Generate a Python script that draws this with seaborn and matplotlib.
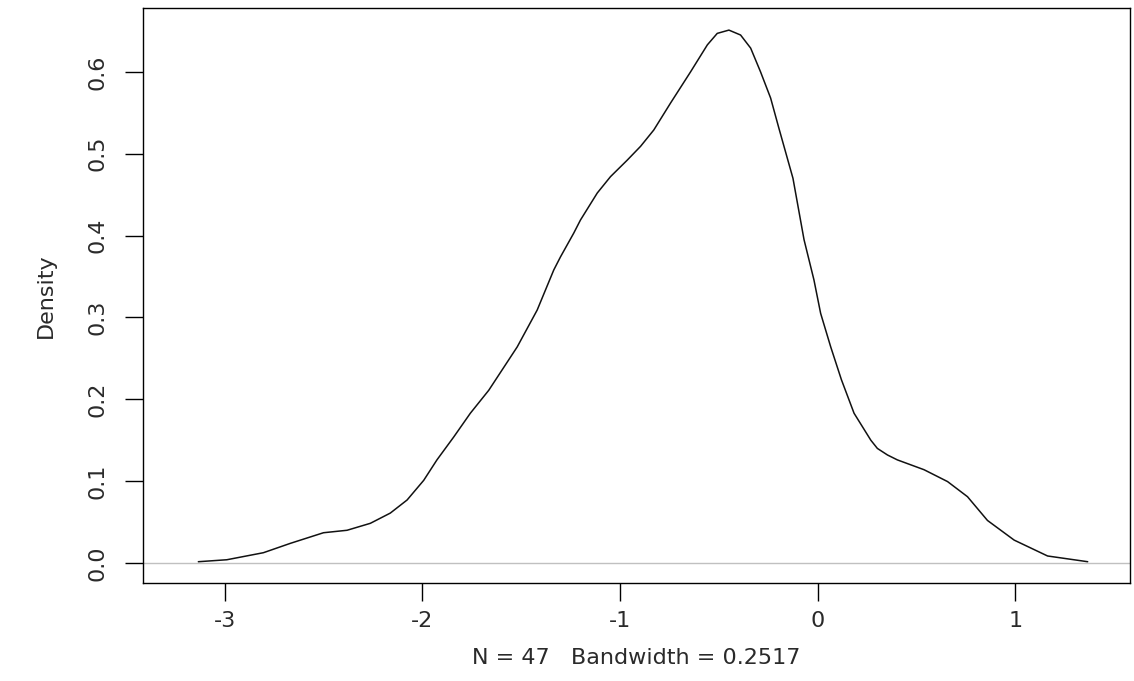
import matplotlib
matplotlib.use("Agg")
import matplotlib.pyplot as plt
import seaborn as sns
import pandas as pd

# Density curve (x value, density)
x_vals = [-3.133, -2.989, -2.804, -2.668, -2.50, -2.381, -2.263, -2.162, -2.077,
          -1.993, -1.926, -1.841, -1.757, -1.664, -1.52, -1.419, -1.335, -1.301,
          -1.234, -1.200, -1.115, -1.048, -0.964, -0.896, -0.829, -0.744, -0.643,
          -0.558, -0.508, -0.449, -0.390, -0.339, -0.289, -0.238, -0.196, -0.125,
          -0.069, -0.019, 0.015, 0.066, 0.12, 0.184, 0.269, 0.302, 0.353, 0.403,
          0.538, 0.657, 0.758, 0.859, 0.994, 1.163, 1.366]
density = [0.0016, 0.004, 0.0126, 0.024, 0.037, 0.040, 0.0485, 0.061, 0.077,
           0.101, 0.126, 0.154, 0.183, 0.211, 0.264, 0.309, 0.358, 0.374,
           0.403, 0.419, 0.452, 0.472, 0.492, 0.509, 0.529, 0.562, 0.600,
           0.633, 0.647, 0.651, 0.645, 0.629, 0.600, 0.568, 0.531, 0.470,
           0.395, 0.346, 0.305, 0.264, 0.224, 0.183, 0.150, 0.140, 0.132, 0.126,
           0.114, 0.0995, 0.081, 0.052, 0.028, 0.0086, 0.0016]
x_ticks = [-3, -2, -1, 0, 1]
y_ticks = [0.0, 0.1, 0.2, 0.3, 0.4, 0.5, 0.6]
x_label = "N = 47   Bandwidth = 0.2517"
y_label = "Density"

sns.set_theme(style="ticks")
plt.rcParams['font.family'] = ['DejaVu Sans']

fig = plt.figure(figsize=(11.34, 6.81), dpi=100)
ax = fig.add_axes([143/1134, (681-583)/681, (1130-143)/1134, (583-8)/681])

df = pd.DataFrame({"x": x_vals, "y": density})
ax.axhline(0, color="#c0c0c0", linewidth=1.0, zorder=1)
sns.lineplot(data=df, x="x", y="y", sort=False, color="#111111", linewidth=1.1,
             estimator=None, ax=ax, zorder=2)
ax.lines[-1].set_solid_joinstyle("round")

ax.set_xlim(-3.413, 1.58)
ax.set_ylim(-0.0244, 0.678)
ax.set_xticks(x_ticks)
ax.set_xticklabels([str(t) for t in x_ticks])
ax.set_yticks(y_ticks)
ax.set_yticklabels([f"{t:.1f}" for t in y_ticks], rotation=90, va="center")

for s in ax.spines.values():
    s.set_visible(True)
    s.set_color("black")
    s.set_linewidth(1.0)

ax.tick_params(axis="both", direction="out", length=13, width=1.0,
               colors="black", labelsize=16, labelcolor="#2a2a2a")
ax.tick_params(axis="x", pad=7.5)
ax.tick_params(axis="y", pad=12.5)

ax.set_xlabel(x_label, fontsize=16, color="#2a2a2a", labelpad=12)
ax.set_ylabel(y_label, fontsize=16, color="#2a2a2a", labelpad=23)

fig.savefig("out.png", dpi=100, facecolor="white")
